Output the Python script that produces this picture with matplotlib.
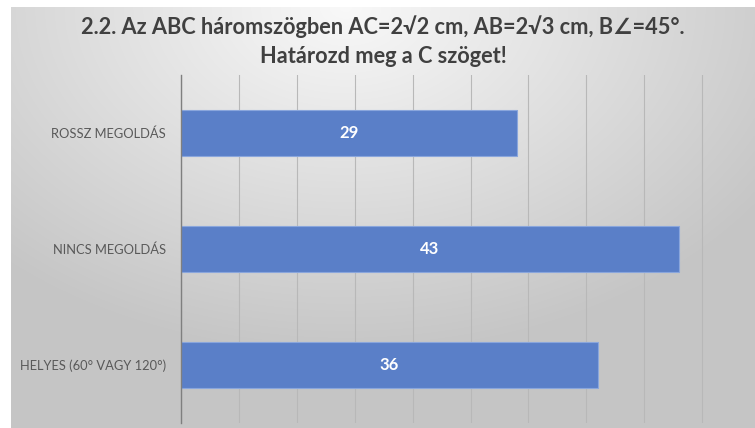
import numpy as np
import matplotlib.pyplot as plt

categories = ["HELYES (60° VAGY 120°)", "NINCS MEGOLDÁS", "ROSSZ MEGOLDÁS"]
values = [36, 43, 29]
x_ticks = list(range(0, 55, 5))
title = "2.2. Az ABC háromszögben AC=2√2 cm, AB=2√3 cm, B∠=45°.\nHatározd meg a C szöget!"

plt.rcParams['font.family'] = ['Lato', 'DejaVu Sans']

W, H = 755, 428
fig = plt.figure(figsize=(W / 100, H / 100), dpi=100)
fig.patch.set_facecolor('white')

# grey radial background, light near the top centre
bg = fig.add_axes([11 / W, 0, 1 - 11 / W, (H - 7) / H])
gx, gy = np.meshgrid(np.linspace(0, 1, 400), np.linspace(0, 1, 300))
d = np.sqrt(((gx - 0.45) / 0.9) ** 2 + ((gy - 0.0) / 1.1) ** 2)
d = np.clip(d / 0.75, 0, 1)
light, dark = 0.975, 0.775
shade = light + (dark - light) * d
bg.imshow(np.dstack([shade, shade, shade]), aspect='auto', extent=[0, 1, 1, 0],
          interpolation='bilinear')
bg.set_axis_off()

ax = fig.add_axes([181 / W, 5 / H, (760 - 181) / W, (H - 75 - 5) / H])
ax.set_facecolor('none')
ypos = np.arange(len(categories))
bars = ax.barh(ypos, values, height=0.39, color='#5a7fc8',
               edgecolor='#8aa6dc', linewidth=0.8, zorder=3)
for b, v in zip(bars, values):
    ax.text(v / 2, b.get_y() + b.get_height() / 2, str(v), ha='center', va='center',
            color='white', fontsize=12, fontweight='bold', zorder=4)

ax.set_xlim(0, 50)
ax.set_ylim(-0.5, len(categories) - 0.5)
ax.set_xticks(x_ticks)
ax.set_xticklabels([])
ax.xaxis.grid(True, color='#b8b8b8', linewidth=0.8, zorder=0)
ax.set_yticks(ypos)
ax.set_yticklabels(categories, fontsize=9.3, color='#595959')
ax.tick_params(axis='both', length=0, pad=11)
for side in ['top', 'right', 'bottom']:
    ax.spines[side].set_visible(False)
ax.spines['left'].set_color('#7f7f7f')
ax.spines['left'].set_linewidth(1.0)
ax.spines['left'].set_zorder(5)

fig.text(383 / W, 1 - 41 / H, title, ha='center', va='center', fontsize=15.7,
         fontweight='bold', color='#404040', linespacing=1.45)

fig.savefig('out.png', dpi=100)
